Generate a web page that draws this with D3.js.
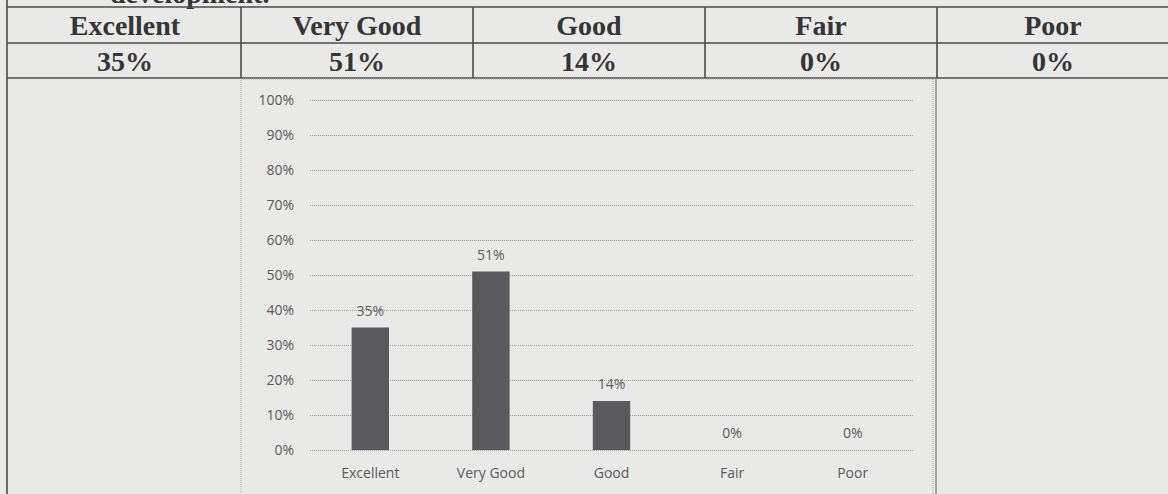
<!DOCTYPE html>
<meta charset="utf-8">
<style>
  body { margin:0; background:#e9e9e8; }
  svg { display:block; }
  .tbl text { font-family:"Liberation Serif", "Times New Roman", serif; font-weight:bold; fill:#353535; }
  .chart text { font-family:"Open Sans", "Noto Sans", sans-serif; fill:#5a5a5a; }
</style>
<svg width="1168" height="494"></svg>
<script src="https://d3js.org/d3.v7.min.js"></script>
<script>

var categories = ["Excellent", "Very Good", "Good", "Fair", "Poor"];
var values = [35, 51, 14, 0, 0];
var yTicks = [0, 10, 20, 30, 40, 50, 60, 70, 80, 90, 100];

var svg = d3.select("svg"),
    width = +svg.attr("width"),
    height = +svg.attr("height");

// ---- table ----
var col = d3.scaleBand().domain(categories).range([9, 1169]);
var rows = [7, 43, 78];
var tbl = svg.append("g").attr("class", "tbl");

// cut-off line of the previous paragraph
tbl.append("text")
    .attr("x", 110).attr("y", 3)
    .style("font-size", "28px")
    .text("development.");

tbl.selectAll("line.h")
  .data(rows)
  .enter().append("line")
    .attr("x1", 7).attr("x2", width)
    .attr("y1", function(d) { return d; }).attr("y2", function(d) { return d; })
    .attr("stroke", "#4a4a4a").attr("stroke-width", 1.6);

tbl.selectAll("line.v")
  .data(categories.slice(1))
  .enter().append("line")
    .attr("x1", col).attr("x2", col)
    .attr("y1", rows[0]).attr("y2", rows[2])
    .attr("stroke", "#4a4a4a").attr("stroke-width", 1.6);

// left border + column line in chart row
tbl.append("line")
    .attr("x1", 7).attr("x2", 7).attr("y1", 0).attr("y2", height)
    .attr("stroke", "#4a4a4a").attr("stroke-width", 1.6);
tbl.append("line")
    .attr("x1", col("Poor") - 1).attr("x2", col("Poor") - 1).attr("y1", rows[2]).attr("y2", height)
    .attr("stroke", "#8a8a8e").attr("stroke-width", 1.5);

tbl.selectAll("text.head")
  .data(categories)
  .enter().append("text")
    .attr("x", function(d) { return col(d) + col.bandwidth() / 2; })
    .attr("y", 35)
    .attr("text-anchor", "middle")
    .style("font-size", "28px")
    .text(function(d) { return d; });

tbl.selectAll("text.val")
  .data(values)
  .enter().append("text")
    .attr("x", function(d, i) { return col(categories[i]) + col.bandwidth() / 2; })
    .attr("y", 71)
    .attr("text-anchor", "middle")
    .style("font-size", "28px")
    .text(function(d) { return d + "%"; });

// ---- chart ----
var chart = svg.append("g").attr("class", "chart");

chart.append("rect")
    .attr("x", col("Very Good")).attr("y", 79)
    .attr("width", col("Poor") - 4 - col("Very Good")).attr("height", 430)
    .attr("fill", "none")
    .attr("stroke", "#a8a8a8")
    .attr("stroke-dasharray", "1,1");

var x = d3.scaleBand()
    .domain(categories)
    .range([310, 913])
    .paddingInner(0.69)
    .paddingOuter(0.345);

var y = d3.scaleLinear()
    .domain([0, 100])
    .range([450, 100]);

var yAxis = chart.append("g")
    .attr("transform", "translate(310,0)")
    .call(d3.axisLeft(y)
      .tickValues(yTicks)
      .tickSize(-603)
      .tickPadding(16)
      .tickFormat(function(d) { return d + "%"; }));

yAxis.select(".domain").remove();
yAxis.selectAll(".tick line")
    .attr("stroke", "#999")
    .attr("stroke-dasharray", "1,1");
yAxis.selectAll(".tick text")
    .attr("fill", "#5a5a5a")
    .style("font-family", "'Open Sans', 'Noto Sans', sans-serif")
    .style("font-size", "14px");

chart.selectAll("rect.bar")
  .data(values)
  .enter().append("rect")
    .attr("class", "bar")
    .attr("x", function(d, i) { return x(categories[i]); })
    .attr("y", function(d) { return y(d); })
    .attr("width", x.bandwidth())
    .attr("height", function(d) { return y(0) - y(d); })
    .attr("fill", "#5a5a5e");

chart.selectAll("text.lbl")
  .data(values)
  .enter().append("text")
    .attr("x", function(d, i) { return x(categories[i]) + x.bandwidth() / 2; })
    .attr("y", function(d) { return y(d) - 12; })
    .attr("text-anchor", "middle")
    .style("font-size", "14px")
    .text(function(d) { return d + "%"; });

chart.selectAll("text.cat")
  .data(categories)
  .enter().append("text")
    .attr("x", function(d) { return x(d) + x.bandwidth() / 2; })
    .attr("y", 478)
    .attr("text-anchor", "middle")
    .style("font-size", "14px")
    .text(function(d) { return d; });

</script>
